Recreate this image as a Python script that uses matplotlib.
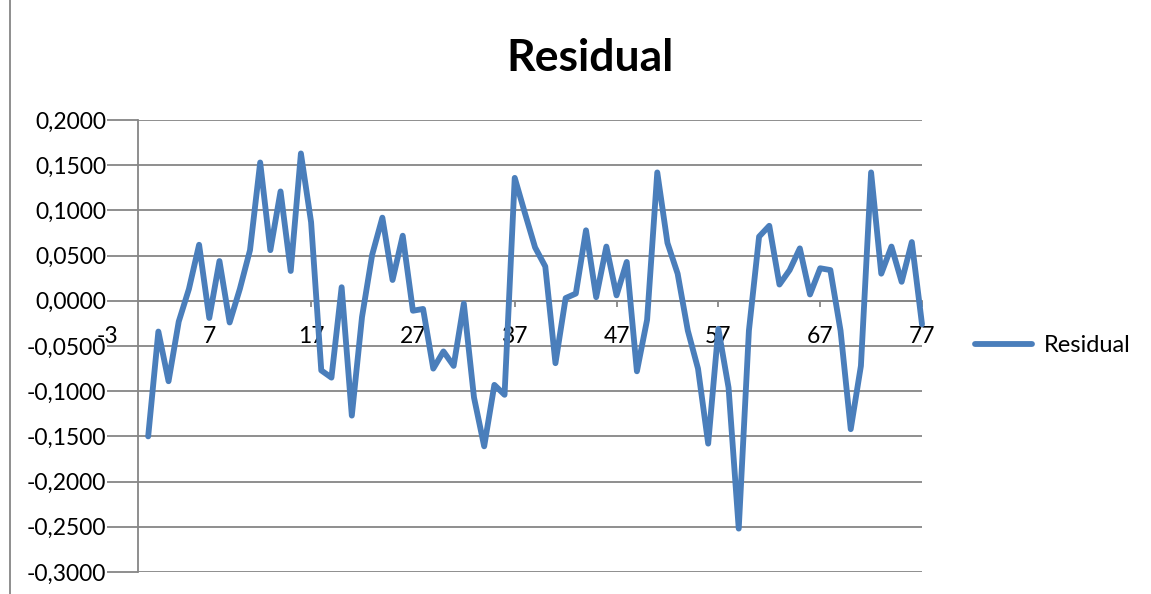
import matplotlib as mpl
import matplotlib.pyplot as plt
from matplotlib import transforms
from matplotlib.lines import Line2D

mpl.use('agg')
plt.rcParams['font.family'] = ['Lato', 'DejaVu Sans']
plt.rcParams['font.size'] = 16.5

# observation index (category) and residual value for each one
obs = list(range(1, 78))
residual = [
    -0.150, -0.034, -0.089, -0.023, 0.013, 0.062, -0.019, 0.044, -0.024, 0.013,
    0.056, 0.153, 0.056, 0.121, 0.033, 0.163, 0.087, -0.077, -0.085, 0.015,
    -0.127, -0.018, 0.051, 0.092, 0.023, 0.072, -0.011, -0.009, -0.075, -0.056,
    -0.072, -0.003, -0.107, -0.161, -0.093, -0.104, 0.136, 0.097, 0.059, 0.038,
    -0.069, 0.003, 0.008, 0.078, 0.004, 0.060, 0.006, 0.043, -0.078, -0.021,
    0.142, 0.064, 0.030, -0.033, -0.075, -0.158, -0.031, -0.096, -0.252, -0.033,
    0.071, 0.083, 0.018, 0.034, 0.058, 0.007, 0.036, 0.034, -0.033, -0.142,
    -0.072, 0.142, 0.030, 0.060, 0.021, 0.065, -0.026,
]
x_ticks = [7, 17, 27, 37, 47, 57, 67, 77]
first_label = -3  # excel put this one left of the plot area
y_ticks = [0.2, 0.15, 0.1, 0.05, 0.0, -0.05, -0.1, -0.15, -0.2, -0.25, -0.3]

line_col = '#4A7EBB'
grid_col = '#868686'

fig = plt.figure(figsize=(11.51, 5.94), dpi=100)
ax = fig.add_axes([138 / 1151, 1 - 572 / 594, 784 / 1151, 452 / 594])

ax.plot(obs, residual, color=line_col, lw=4.2, solid_joinstyle='round',
        solid_capstyle='round', label='Residual', clip_on=False, zorder=3)

ax.set_xlim(0, 77)
ax.set_ylim(-0.3, 0.2)
ax.set_yticks(y_ticks)
ax.set_yticklabels([f'{v:.4f}'.replace('.', ',') for v in y_ticks])
ax.set_xticks(x_ticks)
ax.set_xticklabels([str(v) for v in x_ticks])

ax.grid(axis='y', color=grid_col, lw=1.3)
ax.set_axisbelow(True)
for s in ['top', 'right']:
    ax.spines[s].set_visible(False)
ax.spines['left'].set_color(grid_col)
ax.spines['left'].set_linewidth(1.3)
ax.spines['bottom'].set_position(('data', 0))
ax.spines['bottom'].set_color(grid_col)
ax.spines['bottom'].set_linewidth(1.3)

ax.tick_params(axis='y', length=22, width=1.3, color=grid_col, pad=1)
ax.tick_params(axis='x', length=4, width=1.3, color=grid_col, pad=14)

off = transforms.offset_copy(ax.transData, fig=fig, y=-(4 + 14), units='points')
ax.text(first_label, 0, str(first_label), transform=off, ha='center', va='top',
        clip_on=False)

fig.text(590 / 1151, 1 - 58 / 594, 'Residual', ha='center', va='center',
         fontsize=32, fontweight='bold')

ax.legend(loc='center left', bbox_to_anchor=(975 / 1151, 1 - 346 / 594),
          bbox_transform=fig.transFigure, frameon=False, borderpad=0,
          borderaxespad=0, handlelength=2.4, handletextpad=0.5, fontsize=17)

# chart area border, only the left edge shows in the picture
fig.add_artist(Line2D([10 / 1151, 10 / 1151], [0, 1], color=grid_col, lw=1.3))

fig.savefig('out.png', dpi=100)
